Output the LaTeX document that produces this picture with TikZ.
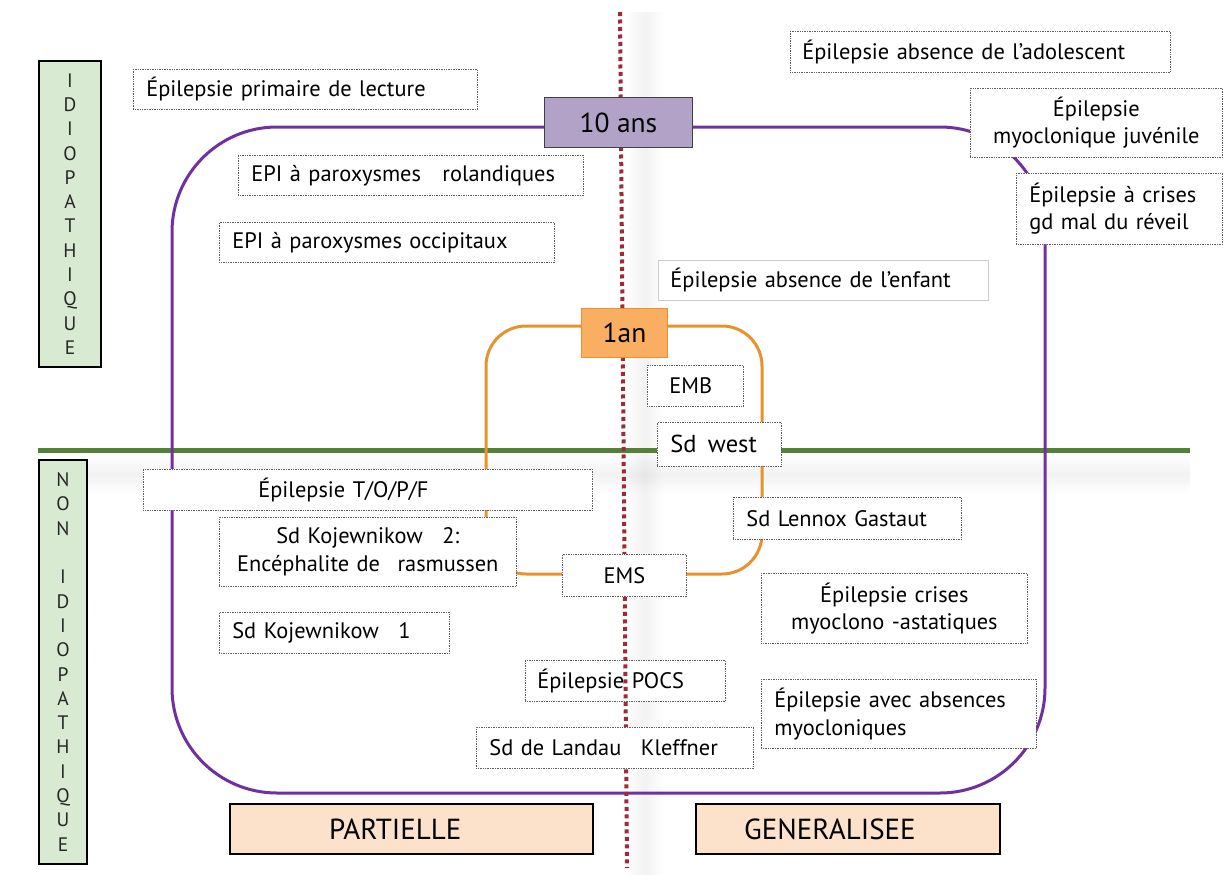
\documentclass[tikz,border=0pt]{standalone}
\usepackage{fontspec}
\setmainfont{PT Sans}
\definecolor{purpleC}{HTML}{7030A0}
\definecolor{orangeC}{HTML}{E8922D}
\definecolor{lavC}{HTML}{B3A2C7}
\definecolor{orfill}{HTML}{F9AE62}
\definecolor{greenfill}{HTML}{D9EAD3}
\definecolor{peachC}{HTML}{FCE2CB}
\definecolor{greenline}{HTML}{538135}
\definecolor{redC}{HTML}{9E2A36}
\newcommand\fs{\fontsize{22.4}{27.5}\selectfont}
\tikzset{
  tb/.style={draw=gray!75!black, densely dotted, line width=0.7pt, fill=white,
    inner ysep=0pt, font=\fs, anchor=north west},
  sidebox/.style={draw=black, line width=2pt, fill=greenfill, inner sep=0pt,
    font=\fontsize{19.5}{24.3}\selectfont, text=black!85, align=center},
  catbox/.style={draw=black, line width=2pt, fill=peachC, inner ysep=0pt,
    font=\fontsize{29}{32}\selectfont, anchor=north west, align=left, minimum height=50pt},
  agebox/.style={line width=1pt, inner sep=0pt, font=\fontsize{27.5}{30}\selectfont,
    anchor=north west, align=center},
  shadowlayer/.style={fill=black, fill opacity=0.008, draw=none}
}
\newcommand\bx[8]{\node[tb,#8,minimum height=#5pt,text width=#6pt,inner xsep=#4pt] (#1) at (#2,#3) {#7};}
\begin{document}
\begin{tikzpicture}[x=1pt,y=-1pt]
\useasboundingbox (0,0) rectangle (1225,891);
% soft shadows
\foreach \d in {3,6,9,12,15,18} {
  \fill[shadowlayer] (60,475-\d) rectangle (1190,475+\d);
  \fill[shadowlayer] (645-\d,12) rectangle (645+\d,875);
}
% side boxes
\node[sidebox, minimum width=62pt, minimum height=306pt, anchor=north west] (idio) at (38,60)
  {I\\D\\I\\O\\P\\A\\T\\H\\I\\Q\\U\\E};
\node[sidebox, minimum width=48pt, minimum height=404pt, anchor=north west] (nonidio) at (38,459)
  {N\\O\\N\\\strut\\I\\D\\I\\O\\P\\A\\T\\H\\I\\Q\\U\\E};
% green separator
\coordinate (gl) at (38,450);
\coordinate (gr) at (1190,450);
\draw[greenline, line width=5pt] (gl) -- (gr);
% purple and orange frames
\draw[purpleC, line width=3pt, rounded corners=105pt] (172,127) rectangle (1045,793);
\draw[orangeC, line width=3pt, rounded corners=40pt] (486,326) rectangle (762,574);
% POCS box (under dotted line)
\bx{pocs}{525}{660}{12}{41}{176}{Épilepsie POCS}{align=left}
% dotted vertical
\coordinate (dt) at (620,12);
\coordinate (db) at (627,868);
\draw[redC, line width=4pt, dash pattern=on 4pt off 3.5pt] (dt) -- (db);
% text boxes
\bx{lect}{133}{69}{13}{40}{318}{Épilepsie primaire de lecture}{align=left}
\bx{rol}{238}{155}{13}{40}{319}{EPI à paroxysmes\hspace{14pt} rolandiques}{align=left}
\bx{occ}{219}{222}{13}{40}{309}{EPI à paroxysmes occipitaux}{align=left}
\bx{ado}{790}{31}{12}{41}{356}{Épilepsie absence de l’adolescent}{align=left}
\bx{myo}{970}{88}{4}{69}{244}{Épilepsie\\myoclonique juvénile}{align=center}
\bx{gdmal}{1016}{173}{13}{71}{180}{Épilepsie à crises\\gd mal du réveil}{align=left}
\bx{enf}{658}{260}{12}{40}{306}{Épilepsie absence de l’enfant}{align=left, solid, draw=gray!40, line width=0.8pt}
\bx{emb}{647}{365}{22}{41}{52}{EMB}{align=left}
\bx{west}{657}{422}{13}{44}{98}{\fontsize{24.5}{27}\selectfont Sd\hspace{4pt} west}{align=left}
\bx{topf}{143}{469}{115}{41}{219}{Épilepsie T/O/P/F}{align=left}
\bx{koj2}{219}{517}{4}{69}{289}{Sd Kojewnikow\hspace{12pt} 2:\\Encéphalite de\hspace{10pt} rasmussen}{align=center}
\bx{ems}{562}{554}{6}{42}{112}{EMS}{align=center}
\bx{lgas}{733}{497}{13}{42}{202}{Sd Lennox Gastaut}{align=left}
\bx{myas}{761}{573}{4}{70}{258}{Épilepsie crises\\myoclono -astatiques}{align=center}
\bx{koj1}{219}{612}{13}{41}{204}{Sd Kojewnikow\hspace{12pt} 1}{align=left}
\bx{abs}{761}{679}{13}{69}{249}{Épilepsie avec absences\\myocloniques}{align=left}
\bx{land}{476}{727}{13}{41}{251}{Sd de Landau\hspace{12pt} Kleffner}{align=left}
% age boxes
\node[agebox, fill=lavC, draw=black!75, minimum width=148pt, minimum height=50pt] (ans10) at (544,97) {10 ans};
\node[agebox, fill=orfill, draw=orangeC, minimum width=86pt, minimum height=49pt] (an1) at (581,308) {1an};
% category boxes
\node[catbox, inner xsep=99pt, text width=165pt] (part) at (229,803) {PARTIELLE};
\node[catbox, inner xsep=48pt, text width=208pt] (gen) at (695,803) {GENERALISEE};
\end{tikzpicture}
\end{document}
